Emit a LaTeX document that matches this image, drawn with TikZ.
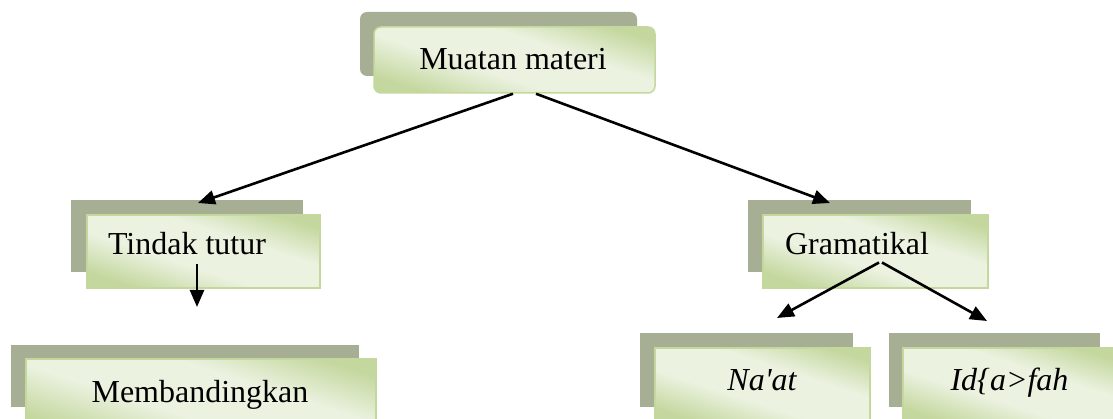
\documentclass[tikz,border=0pt]{standalone}
\usepackage{fontspec}
\setmainfont{Liberation Serif}
\usetikzlibrary{arrows.meta}
\definecolor{shadowc}{RGB}{166,175,148}
\definecolor{gl}{RGB}{235,242,224}
\definecolor{gd}{RGB}{196,215,158}
\definecolor{edgec}{RGB}{196,216,158}
\pgfdeclareverticalshading{greenband}{100bp}{color(0bp)=(gd); color(25bp)=(gd); color(42bp)=(gl); color(60bp)=(gl); color(76bp)=(gd); color(100bp)=(gd)}
\tikzset{
  shadowbox/.style={fill=shadowc, draw=none, inner sep=0pt},
  frontbox/.style={draw=edgec, line width=1.5pt, inner sep=0pt,
    shade, shading=greenband, shading angle=-18},
  lbl/.style={anchor=base, inner sep=0pt, font=\fontsize{32}{38}\selectfont},
  conn/.style={line width=2.6pt, -{Triangle[length=17pt,width=14pt]}},
}
\begin{document}
\begin{tikzpicture}[x=1pt,y=-1pt]
\useasboundingbox (0,0) rectangle (1113,419);
\clip (0,0) rectangle (1113,419);
% Muatan materi
\node[shadowbox, rounded corners=7pt, minimum width=277pt, minimum height=64pt] (ms) at (498.5,44) {};
\node[frontbox, rounded corners=7pt, minimum width=281pt, minimum height=66pt] (m) at (514.5,60) {};
\node[lbl] (mt) at (513,70) {Muatan materi};
% Tindak tutur
\node[shadowbox, minimum width=232pt, minimum height=72pt] (ts) at (187,236) {};
\node[frontbox, minimum width=233pt, minimum height=73pt] (t) at (203.5,251.5) {};
\node[lbl] (tt) at (187,255) {Tindak tutur};
% Membandingkan
\node[shadowbox, minimum width=348pt, minimum height=62pt] (bs) at (185,376) {};
\node[frontbox, minimum width=350pt, minimum height=76pt] (b) at (201,397) {};
\node[lbl] (bt) at (200,402) {Membandingkan};
% Gramatikal
\node[shadowbox, minimum width=223pt, minimum height=72pt] (gs) at (859.5,236) {};
\node[frontbox, minimum width=225pt, minimum height=73pt] (g) at (875.5,251.5) {};
\node[lbl] (gt) at (857,255) {Gramatikal};
% Na'at
\node[shadowbox, minimum width=213pt, minimum height=74pt] (ns) at (746.5,370) {};
\node[frontbox, minimum width=215pt, minimum height=76pt] (n) at (762.5,386) {};
\node[lbl] (nt) at (762,390) {\itshape Na\textquotesingle at};
% Id{a>fah
\node[shadowbox, minimum width=211pt, minimum height=74pt] (is) at (994.5,370) {};
\node[frontbox, minimum width=215pt, minimum height=76pt] (i) at (1010.5,386) {};
\node[lbl] (it) at (1009.5,390) {\itshape Id\{a>fah};
% connector end points
\coordinate (e1) at (198,203);
\coordinate (e2) at (830,203);
\coordinate (e3) at (197,307);
\coordinate (e4) at (777,318);
\coordinate (e5) at (987,321);
\draw[conn] ([xshift=-1.5pt]m.south) -- (e1);
\draw[conn] ([xshift=21.5pt]m.south) -- (e2);
\draw[conn] ([xshift=10pt,yshift=-8pt]tt.south) -- (e3);
\draw[conn] ([xshift=22pt,yshift=-7pt]gt.south) -- (e4);
\draw[conn] ([xshift=25pt,yshift=-7pt]gt.south) -- (e5);
\end{tikzpicture}
\end{document}
